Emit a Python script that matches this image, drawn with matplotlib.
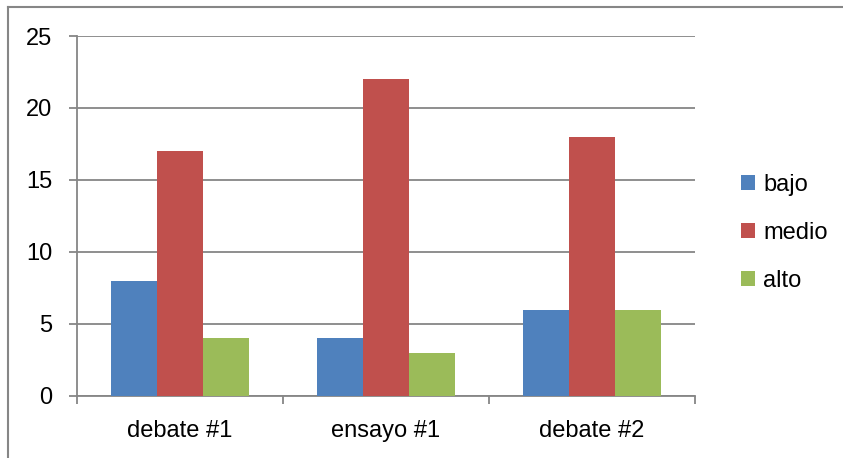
import matplotlib.pyplot as plt
import numpy as np
from matplotlib.lines import Line2D

categories = ['debate #1', 'ensayo #1', 'debate #2']
bajo = [8, 4, 6]
medio = [17, 22, 18]
alto = [4, 3, 6]
series_names = ['bajo', 'medio', 'alto']
colors = ['#4F81BD', '#C0504D', '#9BBB59']
yticks = [0, 5, 10, 15, 20, 25]

plt.rcParams['font.family'] = ['Liberation Sans', 'DejaVu Sans']
fig = plt.figure(figsize=(8.43, 4.58), dpi=100)
# chart border: only left and top edges are inside the picture
bx, by = 7.5/843, 1 - 6.5/458
fig.add_artist(Line2D([bx, bx], [0, by], transform=fig.transFigure, color='#868686', linewidth=1.5))
fig.add_artist(Line2D([bx, 1], [by, by], transform=fig.transFigure, color='#868686', linewidth=1.5))
ax = fig.add_axes([77/843, 62/458, 618/843, 360/458])

x = np.arange(len(categories))
w = 0.67 / 3
for i, (vals, name) in enumerate(zip([bajo, medio, alto], series_names)):
    ax.bar(x + (i - 1) * w, vals, w, color=colors[i], label=name, zorder=3)

ax.set_xlim(-0.5, 2.5)
ax.set_ylim(0, 25)
ax.set_yticks(yticks)
ax.yaxis.grid(True, color='#868686', linewidth=1.3, zorder=0)
ax.set_xticks([-0.5, 0.5, 1.5, 2.5], minor=False)
ax.set_xticklabels([])
ax.set_xticks(x, minor=True)
ax.set_xticklabels(categories, minor=True)
ax.tick_params(axis='x', which='minor', length=0, labelsize=17, pad=17)
ax.tick_params(axis='x', which='major', length=6, direction='out', color='#868686', width=1.3)
ax.tick_params(axis='y', length=6, direction='out', color='#868686', width=1.3, labelsize=17, pad=12)
for side in ['top', 'right']:
    ax.spines[side].set_visible(False)
for side in ['left', 'bottom']:
    ax.spines[side].set_color('#868686')
    ax.spines[side].set_linewidth(1.3)

ax.legend(loc='center left', bbox_to_anchor=(1.04, 0.453), frameon=False, fontsize=17,
          handlelength=0.6, handleheight=0.6, handletextpad=0.35, labelspacing=1.1)

fig.savefig('out.png', dpi=100)
